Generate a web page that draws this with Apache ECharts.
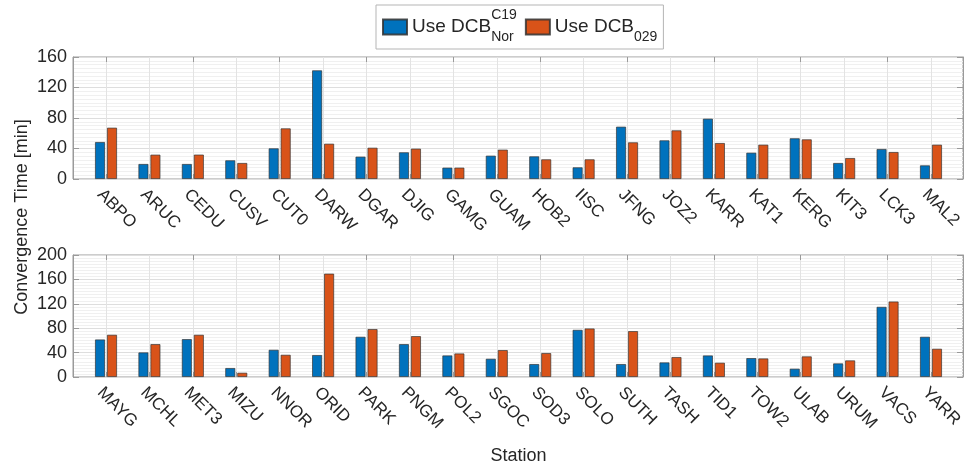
<!DOCTYPE html>
<html><head><meta charset="utf-8">
<script src="https://cdn.jsdelivr.net/npm/echarts@6/dist/echarts.min.js"></script>
<style>html,body{margin:0;padding:0;background:#fff}#c{width:975px;height:467px}</style>
</head><body><div id="c"></div>
<script>
// ---- data ----
const stationsTop = ['ABPO','ARUC','CEDU','CUSV','CUT0','DARW','DGAR','DJIG','GAMG','GUAM','HOB2','IISC','JFNG','JOZ2','KARR','KAT1','KERG','KIT3','LCK3','MAL2'];
const dcbC19Top = [48.5,19.7,19.7,24.5,40.2,142.5,29.3,35.0,14.9,30.6,29.7,15.3,68.6,50.7,79.1,34.5,53.4,21.0,39.3,17.9];
const dcb029Top = [67.3,31.9,32.0,21.0,66.4,46.3,41.0,39.8,14.9,38.5,25.8,25.8,48.1,63.8,47.2,45.0,52.0,27.5,35.4,45.0];
const stationsBottom = ['MAYG','MCHL','MET3','MIZU','NNOR','ORID','PARK','PNGM','POL2','SGOC','SOD3','SOLO','SUTH','TASH','TID1','TOW2','ULAB','URUM','VACS','YARR'];
const dcbC19Bottom = [61.5,40.3,62.1,14.7,44.6,36.0,65.9,53.9,35.3,29.9,21.2,77.3,21.2,23.9,35.3,31.0,13.6,22.3,115.0,65.9];
const dcb029Bottom = [69.2,53.9,69.2,7.0,36.4,169.4,78.5,67.0,38.6,44.1,39.2,79.5,75.2,32.7,23.4,30.4,33.8,27.2,123.7,46.3];
const yRangeTop = {min: 0, max: 160, interval: 40};
const yRangeBottom = {min: 0, max: 200, interval: 40};
const seriesNames = ['Use DCB C19 Nor', 'Use DCB 029'];

// ---- style ----
const FONT = 'Liberation Sans, Arial, Helvetica, sans-serif';
const TXT = '#262626';
const FRAME = '#9a9a9a';
const BLUE = '#0072BD', ORANGE = '#D95319';

const frameL = 73, frameW = 890;
const dataL = 84.3, dataW = 868.4;
const topY = 57, botY = 255, gh = 122;

function frameY(idx, rng, right) {
  return {
    gridIndex: idx, type: 'value', min: rng.min, max: rng.max, interval: rng.interval,
    position: right ? 'right' : 'left',
    axisLine: {show: true, lineStyle: {color: FRAME, width: 1}},
    axisTick: {show: true, inside: true, length: 6, lineStyle: {color: FRAME}},
    axisLabel: {show: !right, color: TXT, fontSize: 18, fontFamily: FONT, margin: 6},
    splitLine: {show: !right, lineStyle: {color: '#dedede', width: 1}},
    minorTick: {show: false, splitNumber: 8},
    minorSplitLine: {show: !right, lineStyle: {color: '#f0f0f0', width: 1}}
  };
}
function dataY(idx, rng) {
  return {gridIndex: idx, type: 'value', min: rng.min, max: rng.max, interval: rng.interval, show: false,
    splitLine: {show: false}};
}
function hiddenX(idx) {
  return {gridIndex: idx, type: 'value', min: 0, max: 1, show: false, splitLine: {show: false}};
}
function catX(idx, cats, pos, extra) {
  return Object.assign({
    gridIndex: idx, type: 'category', data: cats, position: pos,
    axisLine: {show: false},
    axisTick: {show: true, inside: true, length: 5, alignWithLabel: true, lineStyle: {color: FRAME}},
    axisLabel: pos === 'bottom' ? {show: true, rotate: -45, align: 'left', verticalAlign: 'top',
      color: TXT, fontSize: 17, fontFamily: FONT, margin: 7, interval: 0} : {show: false},
    splitLine: pos === 'bottom' ? {show: true, alignWithLabel: true, lineStyle: {color: '#e3e3e3'}} : {show: false}
  }, extra || {});
}
function bar(name, color, data, xi, yi) {
  return {
    name: name, type: 'bar', xAxisIndex: xi, yAxisIndex: yi, data: data,
    barWidth: 10, barGap: '20%',
    itemStyle: {color: color, borderColor: 'rgba(50,50,50,0.85)', borderWidth: 0.8},
    emphasis: {disabled: true}
  };
}
function grid(left, top, width, frame) {
  const g = {left: left, top: top, width: width, height: gh, outerBoundsMode: 'none', containLabel: false};
  if (frame) Object.assign(g, {show: true, borderColor: FRAME, borderWidth: 1, backgroundColor: 'transparent'});
  return g;
}

const option = {
  animation: false,
  backgroundColor: '#fff',
  textStyle: {fontFamily: FONT},
  legend: {
    left: 376, top: 5,
    data: seriesNames,
    itemWidth: 24, itemHeight: 15, itemGap: 8,
    padding: [3, 6, 3, 6],
    borderColor: '#b5b5b5', borderWidth: 1,
    icon: 'rect',
    formatter: function (n) {
      return n === seriesNames[0] ? '{m|Use DCB}{sup|C19}{sub|Nor}' : '{m|Use DCB}{sub|029}';
    },
    textStyle: {
      color: TXT, fontFamily: FONT, fontSize: 19,
      rich: {
        m: {fontSize: 19, fontFamily: FONT, color: TXT, lineHeight: 34},
        sup: {fontSize: 14, fontFamily: FONT, color: TXT, lineHeight: 14, padding: [0, 0, 24, 0], width: 0},
        sub: {fontSize: 14, fontFamily: FONT, color: TXT, lineHeight: 14, padding: [21, 0, 0, 0]}
      }
    }
  },
  grid: [
    grid(frameL, topY, frameW, true),
    grid(dataL, topY, dataW, false),
    grid(frameL, botY, frameW, true),
    grid(dataL, botY, dataW, false)
  ],
  xAxis: [
    hiddenX(0),
    catX(1, stationsTop, 'bottom'),
    catX(1, stationsTop, 'top'),
    hiddenX(2),
    catX(3, stationsBottom, 'bottom', {name: 'Station', nameLocation: 'middle', nameGap: 70,
      nameTextStyle: {color: TXT, fontSize: 18, fontFamily: FONT}}),
    catX(3, stationsBottom, 'top')
  ],
  yAxis: [
    frameY(0, yRangeTop, false),
    frameY(0, yRangeTop, true),
    dataY(1, yRangeTop),
    frameY(2, yRangeBottom, false),
    frameY(2, yRangeBottom, true),
    dataY(3, yRangeBottom)
  ],
  graphic: [{
    type: 'text', x: 22, y: 217, rotation: Math.PI / 2,
    style: {text: 'Convergence Time [min]', fill: TXT, font: '18px ' + FONT, align: 'center', verticalAlign: 'middle'}
  }],
  series: [
    bar(seriesNames[0], BLUE, dcbC19Top, 1, 2),
    bar(seriesNames[1], ORANGE, dcb029Top, 1, 2),
    bar(seriesNames[0], BLUE, dcbC19Bottom, 4, 5),
    bar(seriesNames[1], ORANGE, dcb029Bottom, 4, 5)
  ]
};
const chart = echarts.init(document.getElementById('c'), null, {renderer: 'canvas'});
chart.setOption(option);
</script></body></html>
